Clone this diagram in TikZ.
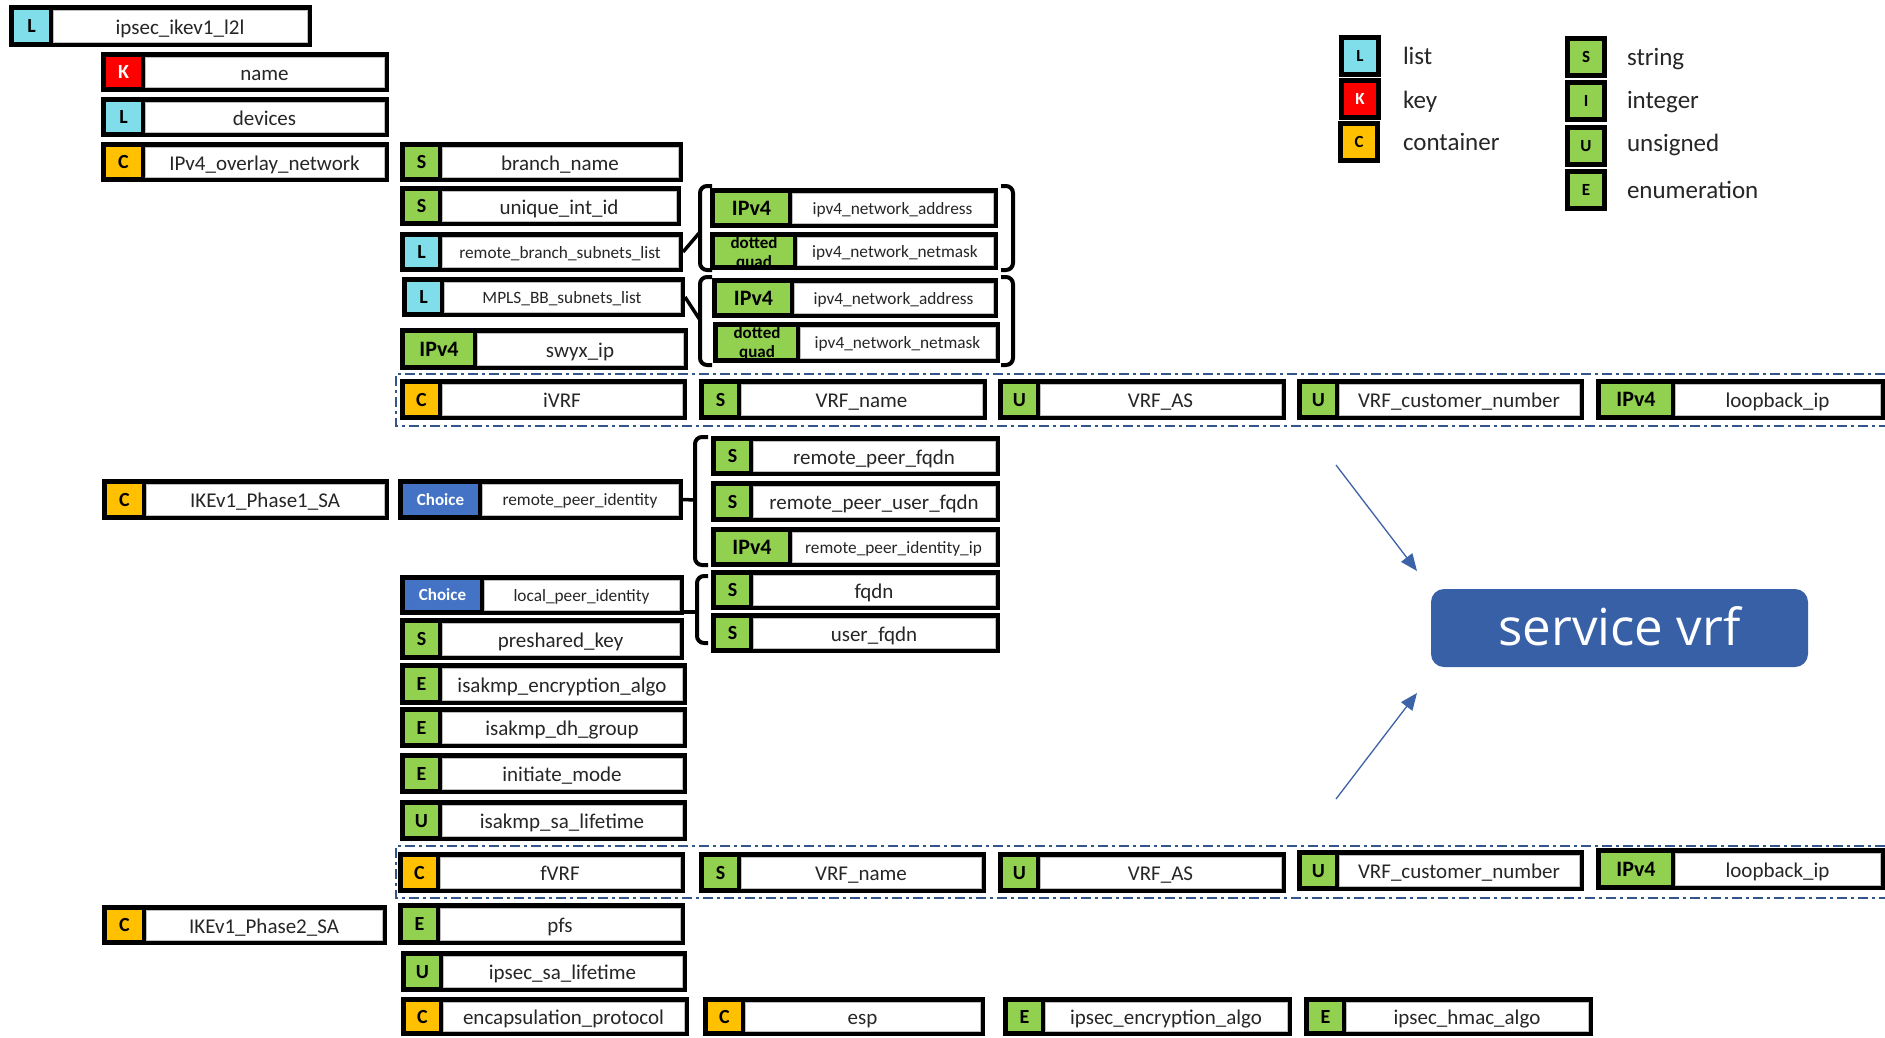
\documentclass[tikz,border=0pt]{standalone}
\usepackage{fontspec}
\setmainfont{Carlito}
\newfontfamily\svcfont{Open Sans}
\usetikzlibrary{arrows.meta,calc}

\definecolor{tagL}{RGB}{127,222,234}
\definecolor{tagK}{RGB}{255,0,0}
\definecolor{tagC}{RGB}{255,192,0}
\definecolor{tagG}{RGB}{146,208,80}
\definecolor{tagCh}{RGB}{68,114,196}
\definecolor{svcblue}{RGB}{55,96,166}
\definecolor{arrowblue}{RGB}{60,98,168}
\definecolor{dashblue}{RGB}{52,84,140}
\definecolor{txt}{RGB}{38,38,38}
\definecolor{edgegray}{RGB}{190,190,190}

\tikzset{
  outerbox/.style={fill=black,draw=none,inner sep=0pt,outer sep=0pt},
  tagbase/.style={inner sep=0pt,outer sep=0pt,draw=none,text=black,
    font=\fontsize{20}{23}\selectfont\bfseries,text height=14.5pt,text depth=1.5pt},
  tL/.style={tagbase,fill=tagL},
  tK/.style={tagbase,fill=tagK,text=white},
  tC/.style={tagbase,fill=tagC},
  tG/.style={tagbase,fill=tagG},
  tIP/.style={tagbase,fill=tagG,font=\fontsize{22}{24}\selectfont\bfseries,
    text height=16pt,text depth=2pt},
  tCh/.style={tagbase,fill=tagCh,text=white,font=\fontsize{17}{20}\selectfont\bfseries,
    text height=12.5pt,text depth=1.5pt},
  namebox/.style={fill=white,draw=edgegray,line width=0.6pt,inner sep=0pt,outer sep=0pt,
    text=txt,font=\fontsize{21}{24}\selectfont,text height=18pt,text depth=2pt},
  smallname/.style={font=\fontsize{17.3}{20}\selectfont,text height=14pt,text depth=2pt},
  dqtext/.style={inner sep=0pt,outer sep=0pt,anchor=base,text=black,
    font=\fontsize{17}{19}\selectfont\bfseries},
  brk/.style={draw=black,line width=4pt,rounded corners=7pt},
  brklink/.style={draw=black,line width=3.5pt},
  vrfgroup/.style={draw=dashblue,line width=2pt,dash pattern=on 10pt off 4pt on 3pt off 4pt},
  legbox/.style={draw=black,line width=5pt,minimum size=37pt,inner sep=0pt,
    font=\fontsize{17}{20}\selectfont\bfseries,text height=12pt,text depth=1pt},
  legtext/.style={anchor=west,inner sep=0pt,outer sep=0pt,text=txt,
    font=\fontsize{25}{28}\selectfont,text height=19pt,text depth=3pt},
  svc/.style={fill=svcblue,draw=none,rounded corners=13pt,minimum width=377pt,
    minimum height=78pt,inner sep=0pt,text=white,
    font=\svcfont\fontsize{51}{58}\selectfont,text height=37pt,text depth=2pt},
  svcarrow/.style={draw=arrowblue,line width=1.3pt,-{Triangle[length=17pt,width=14pt]}},
}

% field box: id, left, top, right, bottom, tag width, tag style, tag text, label
\newcommand{\yboxdo}[9]{%
  \node[outerbox,minimum width=#4-#2,minimum height=#5-#3] (#1) at ({(#2+#4)/2},{(#3+#5)/2}) {};
  \node[#7,minimum width=#6-5,minimum height=#5-#3-10,anchor=north west] (#1-t) at ({#2+5},{#3+5}) {#8};
  \node[curname,minimum width=#4-#2-#6-9,minimum height=#5-#3-10,anchor=north east] (#1-n) at ({#4-5},{#3+5}) {#9};
}
\newcommand{\ybox}{\tikzset{curname/.style={namebox}}\yboxdo}
\newcommand{\yboxs}{\tikzset{curname/.style={namebox,smallname}}\yboxdo}

\begin{document}
\begin{tikzpicture}[x=1pt,y=-1pt]
\fill[white] (0,0) rectangle (1885,1037);
\useasboundingbox (0,0) rectangle (1885,1037);

% VRF groups
\draw[vrfgroup] (1885,374) -- (396,374) -- (396,426) -- (1885,426);
\draw[vrfgroup] (1885,846) -- (396,846) -- (396,898) -- (1885,898);

% first column
\ybox{root}{9}{5}{312}{47}{40}{tL}{L}{ipsec\_ikev1\_l2l}
\ybox{name}{101}{52}{389}{92}{40}{tK}{K}{name}
\ybox{devices}{101}{97}{389}{137}{40}{tL}{L}{devices}
\ybox{ovl}{101}{142}{389}{182}{40}{tC}{C}{IPv4\_overlay\_network}
\ybox{ph1}{102}{479}{389}{520}{40}{tC}{C}{IKEv1\_Phase1\_SA}
\ybox{ph2}{102}{905}{387}{945}{40}{tC}{C}{IKEv1\_Phase2\_SA}

% second column
\ybox{branch}{400}{142}{683}{182}{38}{tG}{S}{branch\_name}
\ybox{uid}{400}{186}{681}{226}{38}{tG}{S}{unique\_int\_id}
\yboxs{rbsl}{400}{232}{683}{272}{38}{tL}{L}{remote\_branch\_subnets\_list}
\yboxs{mpls}{402}{277}{685}{317}{38}{tL}{L}{MPLS\_BB\_subnets\_list}
\ybox{swyx}{400}{328}{688}{370}{73}{tIP}{IPv4}{swyx\_ip}
\ybox{ivrf}{400}{379}{687}{420}{38}{tC}{C}{iVRF}
\yboxs{rpi}{398}{479}{683}{520}{80}{tCh}{Choice}{remote\_peer\_identity}
\yboxs{lpi}{400}{575}{684}{615}{80}{tCh}{Choice}{local\_peer\_identity}
\ybox{psk}{400}{618}{684}{660}{38}{tG}{S}{preshared\_key}
\ybox{isenc}{400}{663}{687}{705}{38}{tG}{E}{isakmp\_encryption\_algo}
\ybox{isdh}{400}{707}{687}{748}{38}{tG}{E}{isakmp\_dh\_group}
\ybox{imode}{400}{753}{687}{794}{38}{tG}{E}{initiate\_mode}
\ybox{islt}{400}{800}{687}{841}{38}{tG}{U}{isakmp\_sa\_lifetime}
\ybox{fvrf}{398}{852}{685}{893}{38}{tC}{C}{fVRF}
\ybox{pfs}{398}{903}{685}{945}{38}{tG}{E}{pfs}
\ybox{ipslt}{401}{951}{687}{992}{38}{tG}{U}{ipsec\_sa\_lifetime}
\ybox{encap}{401}{997}{689}{1036}{38}{tC}{C}{encapsulation\_protocol}

% third column
\yboxs{addr1}{710}{188}{998}{228}{78}{tIP}{IPv4}{ipv4\_network\_address}
\yboxs{mask1}{710}{232}{998}{270}{83}{tG}{}{ipv4\_network\_netmask}
\yboxs{addr2}{712}{278}{998}{318}{78}{tIP}{IPv4}{ipv4\_network\_address}
\yboxs{mask2}{713}{322}{1000}{363}{83}{tG}{}{ipv4\_network\_netmask}
\ybox{rpf}{711}{436}{1000}{476}{38}{tG}{S}{remote\_peer\_fqdn}
\ybox{rpuf}{711}{481}{1000}{522}{38}{tG}{S}{remote\_peer\_user\_fqdn}
\yboxs{rpip}{711}{527}{1000}{567}{77}{tIP}{IPv4}{remote\_peer\_identity\_ip}
\ybox{fqdn}{711}{570}{1000}{610}{38}{tG}{S}{fqdn}
\ybox{ufqdn}{711}{613}{1000}{653}{38}{tG}{S}{user\_fqdn}

% two-line "dotted quad" tags, cut off by the tag edge
\begin{scope}
  \clip (mask1-t.south west) rectangle (mask1-t.north east);
  \node[dqtext] (mask1-d) at ($(mask1-t.north)+(0,11)$) {dotted};
  \node[dqtext] (mask1-q) at ($(mask1-t.north)+(0,30)$) {quad};
\end{scope}
\begin{scope}
  \clip (mask2-t.south west) rectangle (mask2-t.north east);
  \node[dqtext] (mask2-d) at ($(mask2-t.north)+(0,11)$) {dotted};
  \node[dqtext] (mask2-q) at ($(mask2-t.north)+(0,30)$) {quad};
\end{scope}

% VRF rows
\ybox{vn1}{699}{379}{987}{420}{38}{tG}{S}{VRF\_name}
\ybox{vas1}{998}{379}{1286}{420}{38}{tG}{U}{VRF\_AS}
\ybox{vcn1}{1297}{379}{1584}{420}{38}{tG}{U}{VRF\_customer\_number}
\ybox{lb1}{1596}{379}{1885}{420}{75}{tIP}{IPv4}{loopback\_ip}
\ybox{vn2}{699}{852}{986}{893}{38}{tG}{S}{VRF\_name}
\ybox{vas2}{998}{852}{1286}{893}{38}{tG}{U}{VRF\_AS}
\ybox{vcn2}{1297}{850}{1584}{891}{38}{tG}{U}{VRF\_customer\_number}
\ybox{lb2}{1596}{848}{1885}{890}{75}{tIP}{IPv4}{loopback\_ip}

% esp row
\ybox{esp}{703}{997}{985}{1036}{38}{tC}{C}{esp}
\ybox{ipenc}{1003}{997}{1292}{1036}{38}{tG}{E}{ipsec\_encryption\_algo}
\ybox{iphmac}{1304}{997}{1593}{1036}{38}{tG}{E}{ipsec\_hmac\_algo}

% brackets around list entries
\coordinate (rb-mid) at (700,232);
\coordinate (mp-mid) at (700,320);
\draw[brk] (712,186) -- (700,186) -- (700,270) -- (712,270);
\draw[brk] (1001,186) -- (1013,186) -- (1013,270) -- (1001,270);
\draw[brk] (712,277) -- (700,277) -- (700,365) -- (712,365);
\draw[brk] (1001,277) -- (1013,277) -- (1013,365) -- (1001,365);
\draw[brklink] (rbsl.east) -- (rb-mid);
\draw[brklink] (mpls.east) -- (mp-mid);

% braces around choice cases
\coordinate (rp-mid) at (695,500);
\coordinate (lp-mid) at (697,612);
\draw[brk] (708,437) -- (695,437) -- (695,565) -- (708,565);
\draw[brklink] (rpi.east) -- (rp-mid);
\draw[brk] (708,576) -- (697,576) -- (697,643) -- (708,643);
\draw[brklink] ($(lpi.south east)+(0,-3)$) -- (lp-mid);

% legend
\node[legbox,fill=tagL] (kL) at (1360,56) {L};
\node[legbox,fill=tagK,text=white] (kK) at (1360,99) {K};
\node[legbox,fill=tagC] (kC) at (1359,142) {C};
\node[legbox,fill=tagG] (kS) at (1586,57) {S};
\node[legbox,fill=tagG] (kI) at (1586,101) {I};
\node[legbox,fill=tagG] (kU) at (1586,146) {U};
\node[legbox,fill=tagG] (kE) at (1586,190) {E};
\node[legtext] (kLt) at (1403,56) {list};
\node[legtext] (kKt) at (1403,100) {key};
\node[legtext] (kCt) at (1403,142) {container};
\node[legtext] (kSt) at (1627,57) {string};
\node[legtext] (kIt) at (1627,100) {integer};
\node[legtext] (kUt) at (1627,143) {unsigned};
\node[legtext] (kEt) at (1627,190) {enumeration};

% service vrf
\node[svc] (svc) at (1619.5,628) {service vrf};
\coordinate (a1s) at (1336,465);
\coordinate (a1e) at (1417,571);
\coordinate (a2s) at (1336,799);
\coordinate (a2e) at (1417,693);
\draw[svcarrow] (a1s) -- (a1e);
\draw[svcarrow] (a2s) -- (a2e);
\end{tikzpicture}
\end{document}
